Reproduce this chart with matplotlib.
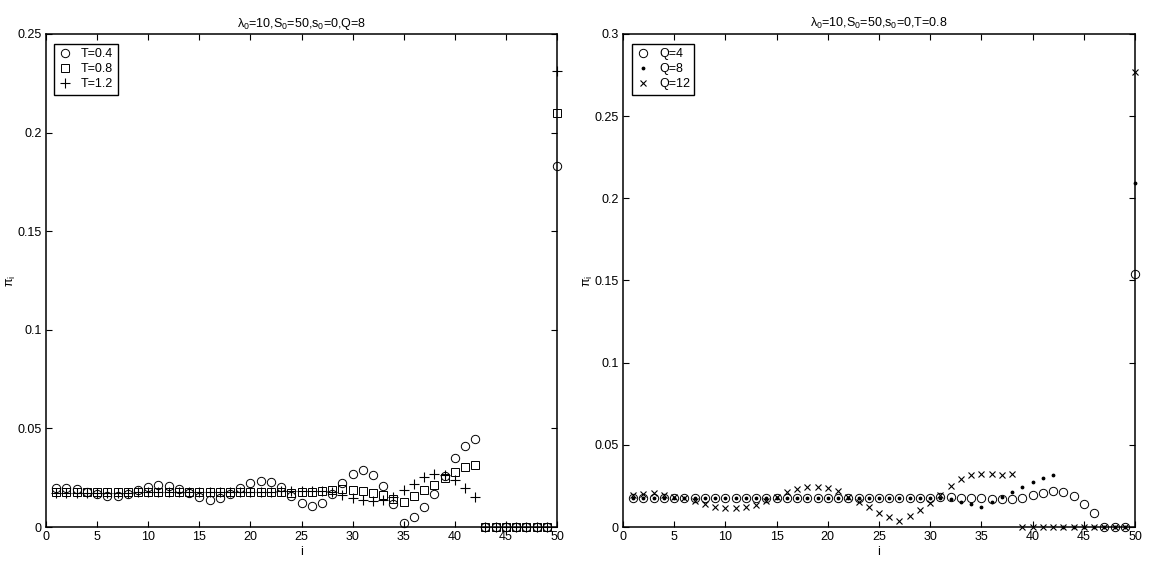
import matplotlib
matplotlib.use("Agg")
import matplotlib.pyplot as plt
import numpy as np
from matplotlib.ticker import FormatStrFormatter, MultipleLocator

plt.rcParams['font.family'] = ['Liberation Sans', 'DejaVu Sans']
plt.rcParams['font.size'] = 9
plt.rcParams['mathtext.fontset'] = 'custom'
plt.rcParams['mathtext.rm'] = 'Liberation Sans'
plt.rcParams['mathtext.it'] = 'Liberation Sans'
plt.rcParams['mathtext.default'] = 'regular'

i_vals = np.arange(1, 51)

# left panel: Q=8, varying T
pi_T04 = [0.0198, 0.0198, 0.0193, 0.0180, 0.0167, 0.0155, 0.0159, 0.0169, 0.0189, 0.0203,
          0.0211, 0.0208, 0.0194, 0.0171, 0.0150, 0.0138, 0.0147, 0.0166, 0.0198, 0.0223,
          0.0235, 0.0226, 0.0203, 0.0155, 0.0122, 0.0105, 0.0122, 0.0169, 0.0223, 0.0267,
          0.0287, 0.0264, 0.0206, 0.0117, 0.0020, 0.0052, 0.0099, 0.0169, 0.0260, 0.0348,
          0.0412, 0.0444, 0, 0, 0, 0, 0, 0, 0, 0.183]
pi_T08 = [0.0178, 0.0178, 0.0178, 0.0177, 0.0176, 0.0176, 0.0176, 0.0177, 0.0178, 0.0179,
          0.0179, 0.0179, 0.0178, 0.0177, 0.0176, 0.0175, 0.0175, 0.0176, 0.0177, 0.0178,
          0.0178, 0.0178, 0.0176, 0.0172, 0.0176, 0.0178, 0.0185, 0.0189, 0.0192, 0.0189,
          0.0182, 0.0172, 0.0160, 0.0142, 0.0125, 0.0155, 0.0186, 0.0213, 0.0248, 0.0277,
          0.0304, 0.0316, 0, 0, 0, 0, 0, 0, 0, 0.210]
pi_T12 = [0.0174, 0.0174, 0.0174, 0.0174, 0.0174, 0.0174, 0.0174, 0.0174, 0.0175, 0.0176,
          0.0176, 0.0176, 0.0175, 0.0175, 0.0175, 0.0175, 0.0176, 0.0177, 0.0178, 0.0179,
          0.0180, 0.0180, 0.0182, 0.0183, 0.0184, 0.0184, 0.0183, 0.0176, 0.0164, 0.0147,
          0.0135, 0.0130, 0.0138, 0.0152, 0.0186, 0.0220, 0.0254, 0.0269, 0.0265, 0.0240,
          0.0199, 0.0150, 0, 0, 0, 0, 0, 0, 0, 0.231]

# right panel: T=0.8, varying Q
pi_Q4 = [0.0176] * 30 + [0.0180, 0.0180, 0.0178, 0.0178, 0.0175, 0.0172, 0.0168, 0.0168,
                         0.0175, 0.0193, 0.0209, 0.0221, 0.0215, 0.0190, 0.0138, 0.0083,
                         0, 0, 0, 0.154]
pi_Q8 = [0.0179] * 31 + [0.0168, 0.0154, 0.0138, 0.0124, 0.0152, 0.0183, 0.0211, 0.0242,
                         0.0272, 0.0300, 0.0314, 0, 0, 0, 0, 0, 0, 0, 0.2096]
pi_Q12 = [0.0197, 0.0200, 0.0204, 0.0197, 0.0185, 0.0177, 0.0161, 0.0140, 0.0124, 0.0116,
          0.0116, 0.0124, 0.0136, 0.0156, 0.0180, 0.0213, 0.0233, 0.0245, 0.0245, 0.0237,
          0.0217, 0.0185, 0.0152, 0.0120, 0.0083, 0.0063, 0.0039, 0.0067, 0.0103, 0.0148,
          0.0195, 0.0250, 0.0290, 0.0315, 0.0323, 0.0320, 0.0318, 0.0320,
          0, 0, 0, 0, 0, 0, 0, 0, 0, 0, 0, 0.2771]


def style_axes(ax, ymax):
    ax.set_xlim(0, 50)
    ax.set_ylim(0, ymax)
    ax.xaxis.set_major_locator(MultipleLocator(5))
    ax.yaxis.set_major_locator(MultipleLocator(0.05))
    ax.yaxis.set_major_formatter(FormatStrFormatter('%g'))
    ax.tick_params(direction='in', length=4, width=0.8, top=True, right=True,
                   labelsize=9, pad=3)
    for sp in ax.spines.values():
        sp.set_linewidth(1.1)
    ax.set_xlabel('i', labelpad=2)
    ax.set_ylabel(r'$\pi_i$')
    ax.yaxis.set_label_coords(-0.054, 0.5)


def legend(ax, x0):
    leg = ax.legend(loc='upper left', bbox_to_anchor=(x0, 0.98), borderaxespad=0,
                    numpoints=1, fancybox=False, framealpha=1, edgecolor='black',
                    fontsize=9, handlelength=1.0, handletextpad=0.8,
                    labelspacing=0.25, borderpad=0.35)
    leg.get_frame().set_linewidth(1.0)


fig = plt.figure(figsize=(11.49, 5.64), dpi=100)
ax1 = fig.add_axes([46 / 1149, 37 / 564, 511 / 1149, 493 / 564])
ax2 = fig.add_axes([623 / 1149, 37 / 564, 512 / 1149, 493 / 564])

kw = dict(linestyle='none', color='black', clip_on=False)
ax1.plot(i_vals, pi_T04, marker='o', markersize=6, markerfacecolor='none',
         markeredgewidth=0.7, label='T=0.4', **kw)
ax1.plot(i_vals, pi_T08, marker='s', markersize=5.5, markerfacecolor='none',
         markeredgewidth=0.7, label='T=0.8', **kw)
ax1.plot(i_vals, pi_T12, marker='+', markersize=6.5, markeredgewidth=0.8,
         label='T=1.2', **kw)
style_axes(ax1, 0.25)
ax1.set_title(r'$\lambda_0$=10,S$_0$=50,s$_0$=0,Q=8', fontsize=9, pad=5)
legend(ax1, 8 / 511)

ax2.plot(i_vals, pi_Q4, marker='o', markersize=6, markerfacecolor='none',
         markeredgewidth=0.7, label='Q=4', **kw)
ax2.plot(i_vals, pi_Q8, marker='.', markersize=3.5, label='Q=8', **kw)
ax2.plot(i_vals, pi_Q12, marker='x', markersize=4.5, markeredgewidth=0.8,
         label='Q=12', **kw)
style_axes(ax2, 0.3)
ax2.set_title(r'$\lambda_0$=10,S$_0$=50,s$_0$=0,T=0.8', fontsize=9, pad=5)
legend(ax2, 9 / 512)

fig.savefig('out.png', dpi=100)
